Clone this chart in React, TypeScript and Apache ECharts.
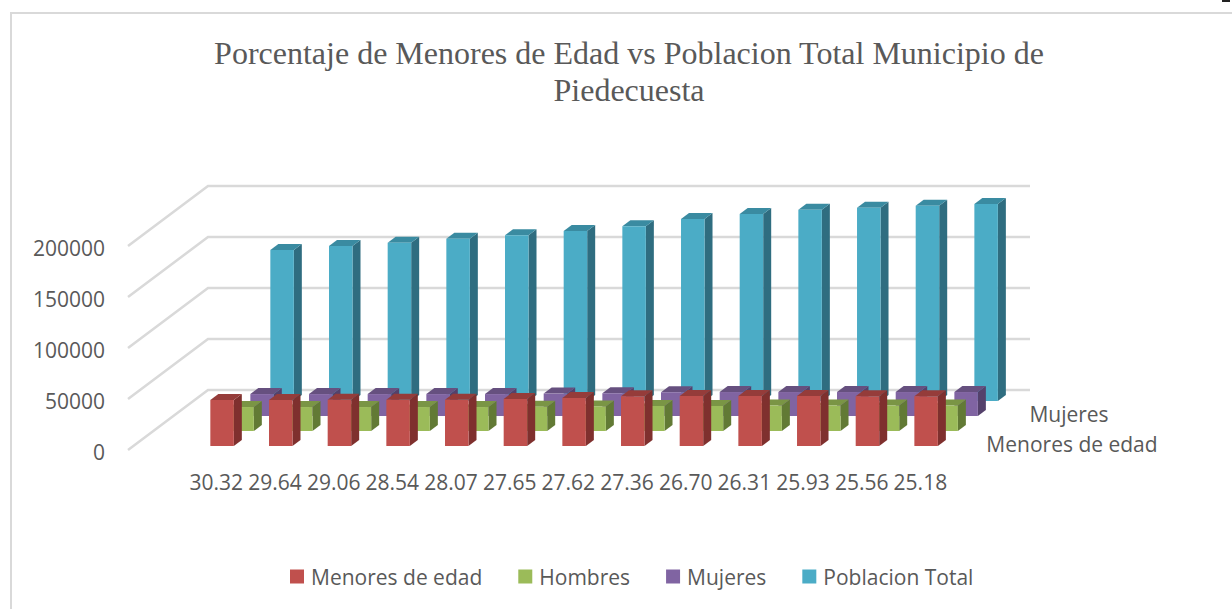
import React, { useEffect, useRef } from "react";
import * as echarts from "echarts";

const titleText = "Porcentaje de Menores de Edad vs Poblacion Total Municipio de\nPiedecuesta";
const categories = ["30.32", "29.64", "29.06", "28.54", "28.07", "27.65", "27.62", "27.36", "26.70", "26.31", "25.93", "25.56", "25.18"];
const yTicks = [0, 50000, 100000, 150000, 200000];
const menores = [45100, 45100, 45300, 45300, 45300, 46100, 47100, 48700, 49000, 49000, 49000, 48700, 48700];
const hombres = [23500, 23500, 23500, 23500, 23500, 23800, 24100, 24500, 24500, 25000, 25000, 25000, 25000];
const mujeres = [21500, 21500, 21500, 21500, 21500, 22000, 22300, 23300, 23500, 23500, 23500, 23500, 23500];
const poblacion = [148000, 152000, 155200, 159100, 162500, 166700, 171300, 178400, 183300, 187500, 189500, 191500, 193100];
const depthLabels = ["Mujeres", "Menores de edad"];

const GRAY = "#595959";
const GRID = "#d9d9d9";
const FONT = "'Open Sans', sans-serif";

function barSeries(name: string, values: number[], slot: number, face: string, top: string, side: string) {
  return {
    type: "custom",
    name,
    silent: true,
    itemStyle: { color: face },
    data: values.map((v, i) => [i, v]),
    encode: { x: 0, y: 1 },
    renderItem: (_p: any, api: any) => {
      const [cx, y0] = api.coord([api.value(0), 0]);
      const [, yv] = api.coord([api.value(0), api.value(1)]);
      const w = 23.5;
      const dx = 8;
      const dy = 6;
      const x1 = cx - 6 + 20 * slot;
      const x2 = x1 + w;
      const yb = y0 - 4 - 15 * slot;
      const yt = yb - (y0 - yv);
      return {
        type: "group",
        children: [
          { type: "polygon", shape: { points: [[x2, yb], [x2 + dx, yb - dy], [x2 + dx, yt - dy], [x2, yt]] }, style: { fill: side } },
          { type: "polygon", shape: { points: [[x1, yt], [x2, yt], [x2 + dx, yt - dy], [x1 + dx, yt - dy]] }, style: { fill: top } },
          { type: "rect", shape: { x: x1, y: yt, width: w, height: yb - yt }, style: { fill: face } },
        ],
      };
    },
  };
}

export default function App() {
  const ref = useRef<HTMLDivElement>(null);
  useEffect(() => {
    document.body.style.margin = "0";
    const chart = echarts.init(ref.current!, null, { renderer: "svg" });
    chart.setOption({
      animation: false,
      backgroundColor: "#ffffff",
      title: {
        text: titleText,
        left: 624,
        top: 29,
        textAlign: "center",
        textStyle: { fontFamily: "'Liberation Serif', serif", fontSize: 32, fontWeight: "normal", color: GRAY, lineHeight: 37 },
      },
      legend: {
        data: ["Menores de edad", "Hombres", "Mujeres", "Poblacion Total"],
        left: 285,
        top: 561,
        icon: "rect",
        itemWidth: 14,
        itemHeight: 14,
        itemGap: 36,
        textStyle: { fontFamily: FONT, fontSize: 21, color: GRAY, padding: [0, 0, 0, 2] },
      },
      grid: { left: 187, top: 246, width: 762.7, height: 204 },
      xAxis: {
        type: "category",
        data: categories,
        axisLine: { show: false },
        axisTick: { show: false },
        axisLabel: { interval: 0, margin: 21, fontFamily: FONT, fontSize: 21, color: GRAY },
      },
      yAxis: {
        type: "value",
        min: 0,
        max: 200000,
        interval: 50000,
        axisLine: { show: false },
        axisTick: { show: false },
        splitLine: { show: false },
        axisLabel: {
          margin: 82,
          color: GRAY,
          formatter: (v: number) => `{n|${v}}`,
          rich: { n: { fontFamily: FONT, fontSize: 21, color: GRAY, padding: [4, 0, 0, 0] } },
        },
      },
      graphic: [
        { type: "polyline", shape: { points: [[11, 609], [11, 13], [1232, 13]] }, style: { stroke: GRID, lineWidth: 2, fill: "none" } },
        { type: "rect", shape: { x: 1222, y: 0, width: 8, height: 2 }, style: { fill: "#222222" } },
        { type: "text", x: 1069, y: 414, style: { text: depthLabels[0], font: `21px ${FONT}`, fill: GRAY, align: "center", verticalAlign: "middle" } },
        { type: "text", x: 1072, y: 444, style: { text: depthLabels[1], font: `21px ${FONT}`, fill: GRAY, align: "center", verticalAlign: "middle" } },
      ],
      series: [
        {
          type: "custom",
          name: "walls",
          silent: true,
          data: yTicks.map((v) => [0, v]),
          encode: { x: 0, y: 1 },
          renderItem: (params: any, api: any) => {
            const y = api.coord([0, api.value(1)])[1];
            const x0 = params.coordSys.x - 59;
            return {
              type: "polyline",
              shape: { points: [[x0, y], [x0 + 80, y - 60], [x0 + 902, y - 60]] },
              style: { stroke: GRID, lineWidth: 2.5, fill: "none" },
            };
          },
        },
        barSeries("Poblacion Total", poblacion, 3, "#4bacc6", "#3a8ba1", "#2f6d80"),
        barSeries("Mujeres", mujeres, 2, "#8064a2", "#66507f", "#54416b"),
        barSeries("Hombres", hombres, 1, "#9bbb59", "#7a9545", "#627a35"),
        barSeries("Menores de edad", menores, 0, "#c0504d", "#953c3a", "#7f302e"),
      ],
    });
    return () => chart.dispose();
  }, []);
  return <div ref={ref} style={{ position: "absolute", left: 0, top: 0, width: 1232, height: 609 }} />;
}
